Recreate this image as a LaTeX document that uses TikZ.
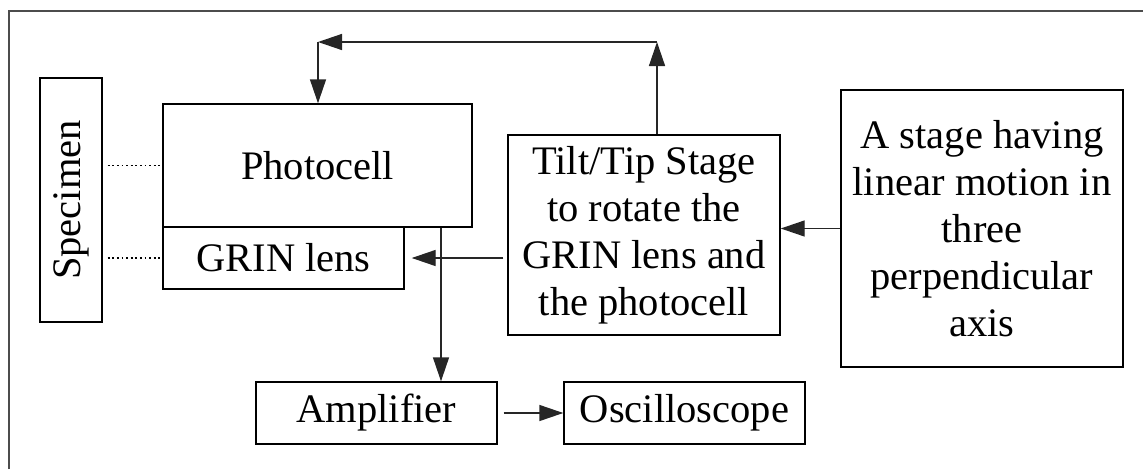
\documentclass[tikz,border=0pt]{standalone}
\usepackage{fontspec}
\setmainfont{Liberation Serif}
\usetikzlibrary{arrows.meta}

\tikzset{
  blk/.style={draw=black, line width=1.4pt, inner sep=0pt, align=center,
              font=\fontsize{40.5}{47}\selectfont},
  arr/.style={draw=black!85, line width=1.4pt,
              -{Triangle[length=24pt,width=16pt]}},
  link/.style={draw=black, line width=1.9pt, dash pattern=on 1.8pt off 2.8pt},
  frame/.style={draw=black!70, line width=2pt}
}

\begin{document}
\begin{tikzpicture}[x=1pt, y=-1pt]
  \useasboundingbox (0,0) rectangle (1143,469);

  % open frame: top and left edges only
  \draw[frame] (9,469) -- (9,11) -- (1143,11);

  % blocks
  \node[blk, rotate=90, minimum width=244pt, minimum height=62pt] (spec) at (71,200) {Specimen};
  \node[blk, minimum width=309pt, minimum height=123pt] (photo) at (317.5,165.5) {Photocell};
  \node[blk, minimum width=241pt, minimum height=62pt] (grin) at (283.5,258) {GRIN lens};
  \node[blk, minimum width=241pt, minimum height=62pt] (amp) at (376.5,413) {Amplifier};
  \node[blk, minimum width=241pt, minimum height=62pt] (osc) at (684.5,413) {Oscilloscope};
  \node[blk, minimum width=272pt, minimum height=200pt] (tilt) at (644,235)
       {Tilt/Tip Stage\\to rotate the\\GRIN lens and\\the photocell};
  \node[blk, minimum width=282pt, minimum height=277pt] (stage) at (982,228.5)
       {A stage having\\linear motion in\\three\\perpendicular\\axis};

  % routing points
  \coordinate (tapx) at (441,0);
  \coordinate (up) at (657,42);
  \coordinate (back) at (318,42);

  % optical coupling between specimen and the probe
  \draw[link, shorten <=5pt] (spec.south |- photo.west) -- (photo.west);
  \draw[link, shorten <=5pt] (spec.south |- grin.west) -- (grin.west);

  % signal path
  \draw[arr] (photo.south -| tapx) -- (amp.north -| tapx);
  \draw[arr, shorten <=6pt] (amp.east) -- (osc.west);

  % mechanical actuation
  \draw[arr] (stage.west) -- (tilt.east |- stage.west);
  \draw[arr, shorten <=4pt, shorten >=7pt] (tilt.west |- grin.east) -- (grin.east);
  \draw[arr] (tilt.north -| up) -- (up);
  \draw[arr] (up) -- (back);
  \draw[arr] (back) -- (photo.north -| back);
\end{tikzpicture}
\end{document}
